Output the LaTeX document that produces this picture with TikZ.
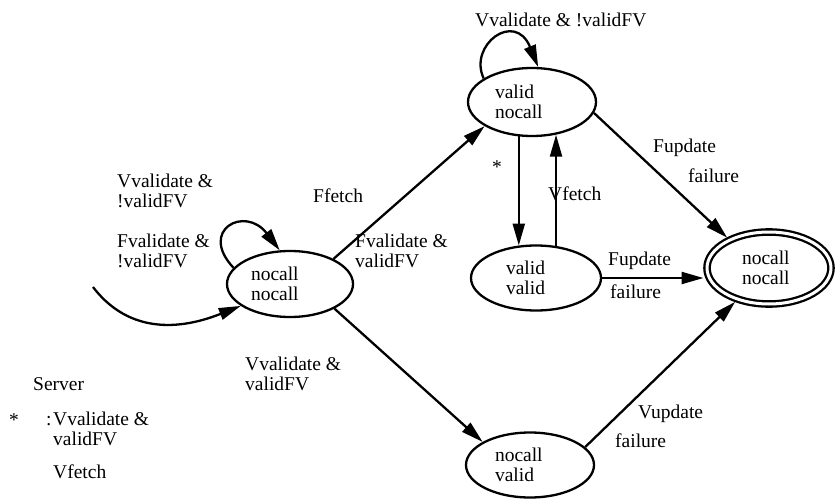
\documentclass[tikz,border=0pt]{standalone}
\usepackage{fontspec}
\setmainfont{Liberation Serif}
\usetikzlibrary{shapes.geometric,arrows.meta}
\begin{document}
\begin{tikzpicture}[x=1pt,y=-1pt,
  every node/.style={font=\fontsize{19.5}{20}\selectfont},
  st/.style={ellipse,draw,line width=2.3pt,inner sep=0pt,align=left},
  arr/.style={line width=2.3pt,-{Triangle[length=22pt,width=12pt]}},
  lblb/.style={anchor=base west,inner sep=0pt},
  lbln/.style={anchor=north west,inner sep=0pt,align=left}]
\useasboundingbox (0,0) rectangle (835,500);

% states
\node[st,minimum width=126pt,minimum height=66pt,text width=78pt] (A) at (290,284) {nocall\\nocall};
\node[st,minimum width=128pt,minimum height=68pt,text width=74pt] (B) at (532,102) {valid\\nocall};
\node[st,minimum width=130pt,minimum height=65pt,text width=60pt] (C) at (536,278) {valid\\valid};
\node[st,minimum width=128pt,minimum height=65pt,text width=70pt] (E) at (530,465) {nocall\\valid};
\node[st,double,double distance=3pt,outer sep=3.5pt,minimum width=124pt,minimum height=72pt,text width=54pt] (D) at (769,268) {nocall\\nocall};

% connectors
\coordinate (init) at (93,287);
\draw[arr] (init) .. controls (135,342) and (195,324) .. (A.204);
\draw[arr] (A.164) .. controls (198,230) and (245,205) .. (A.107);
\draw[arr] (A.30) -- (B.207);
\draw[arr] (A.331) -- (E.154);
\draw[arr] (B.154) .. controls (468,45) and (515,10) .. (B.80);
\draw[arr] (B.249) -- (B.249 |- C.118);
\draw[arr] (C.58) -- (C.58 |- B.306);
\draw[arr] (B.350) -- (D.144);
\draw[arr] (C.east) -- (C.east -| D.west);
\draw[arr] (E.18) -- (D.225);

% labels
\node[lblb] (t1) at (475,27) {Vvalidate \& !validFV};
\node[lbln] (t2) at (117,174) {Vvalidate \&\\!validFV};
\node[lbln] (t3) at (117,234) {Fvalidate \&\\!validFV};
\node[lblb] (t4) at (313,202) {Ffetch};
\node[lbln] (t5) at (355,234) {Fvalidate \&\\validFV};
\node[lbln] (t6) at (245,357) {Vvalidate \&\\validFV};
\node[inner sep=0pt] (t7) at (497,167) {*};
\node[lblb] (t8) at (548,200) {Vfetch};
\node[lblb] (t9) at (653,153) {Fupdate};
\node[lblb] (t10) at (688,182) {failure};
\node[lblb] (t11) at (608,265) {Fupdate};
\node[lblb] (t12) at (610,298) {failure};
\node[lblb] (t13) at (638,418) {Vupdate};
\node[lblb] (t14) at (615,447) {failure};

% legend
\node[lblb] (s1) at (33,390) {Server};
\node[inner sep=0pt] (s2) at (14,420) {*};
\node[lblb] (s3) at (46,425) {:};
\node[lbln] (s4) at (53,412) {Vvalidate \&\\validFV};
\node[lblb] (s5) at (53,478) {Vfetch};
\end{tikzpicture}
\end{document}
